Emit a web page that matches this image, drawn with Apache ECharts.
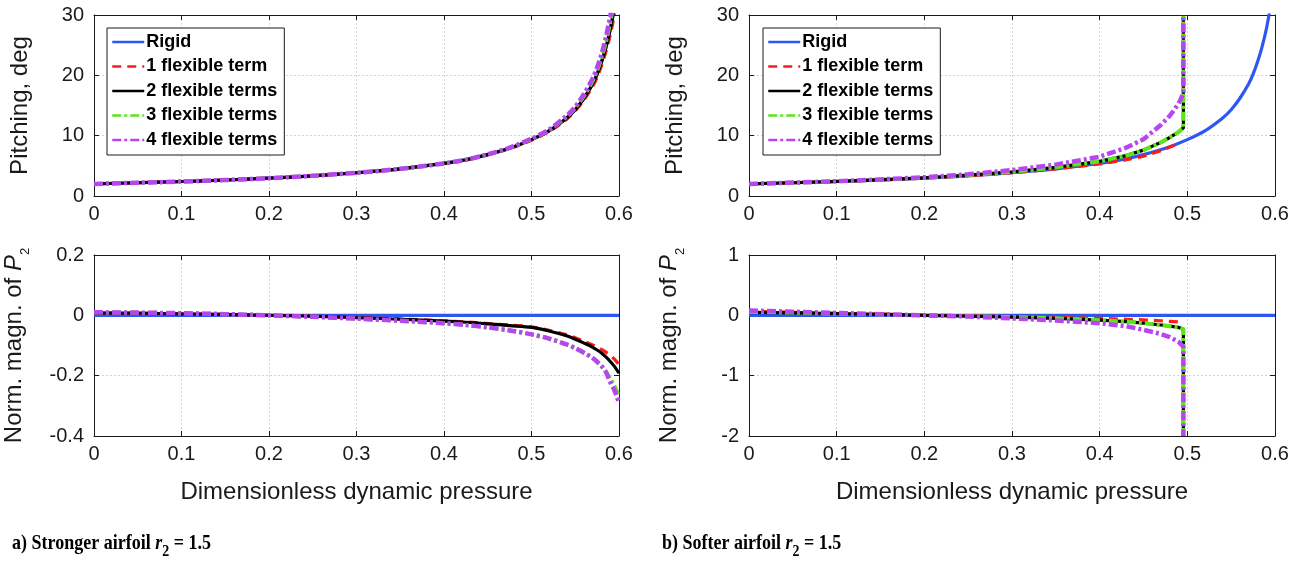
<!DOCTYPE html>
<html>
<head>
<meta charset="utf-8">
<script src="https://cdn.jsdelivr.net/npm/echarts@6/dist/echarts.min.js"></script>
<style>
  html, body { margin: 0; padding: 0; background: #ffffff; }
  #chart { width: 1303px; height: 561px; }
</style>
</head>
<body>
<div id="chart"></div>
<script>
// ---- dynamic-pressure samples ----
const qStrong = [0, 0.05, 0.1, 0.15, 0.2, 0.25, 0.3, 0.35, 0.4, 0.425, 0.45, 0.475, 0.5, 0.52, 0.54, 0.55, 0.56, 0.57, 0.575, 0.58, 0.585, 0.59, 0.595, 0.6];
const qSoft   = [0, 0.05, 0.1, 0.15, 0.2, 0.25, 0.3, 0.35, 0.4, 0.43, 0.45, 0.47, 0.48, 0.49, 0.4955, 0.4955];
const qRigidP2 = [0, 0.6];

// ---- a) stronger airfoil: pitching, deg ----
const rigidPitch   = [2.0, 2.2, 2.4, 2.65, 2.95, 3.35, 3.85, 4.5, 5.4, 6.0, 6.85, 7.9, 9.35, 10.8, 12.9, 14.3, 16.2, 18.6, 20.2, 22.2, 24.6, 27.6, 31.5, 36];
const strongPitch1 = [2.0, 2.2, 2.4, 2.65, 2.95, 3.35, 3.85, 4.5, 5.4, 6.0, 6.85, 7.85, 9.25, 10.7, 12.7, 14.1, 15.9, 18.2, 19.7, 21.6, 23.9, 26.7, 30.3, 35];
const strongPitch2 = [2.0, 2.2, 2.4, 2.65, 2.95, 3.35, 3.85, 4.5, 5.4, 6.0, 6.85, 7.9, 9.35, 10.8, 12.9, 14.3, 16.2, 18.6, 20.2, 22.2, 24.6, 27.6, 31.5, 36];
const strongPitch3 = [2.0, 2.2, 2.4, 2.65, 2.95, 3.35, 3.85, 4.5, 5.4, 6.0, 6.9, 7.95, 9.45, 10.9, 13.1, 14.6, 16.6, 19.1, 20.8, 22.9, 25.5, 28.8, 33, 38];
const strongPitch4 = [2.0, 2.2, 2.4, 2.65, 2.95, 3.35, 3.85, 4.5, 5.4, 6.0, 6.9, 8.0, 9.5, 11.0, 13.3, 14.8, 16.9, 19.5, 21.3, 23.5, 26.3, 29.8, 34, 39];

// ---- a) stronger airfoil: normalised magnitude of P2 ----
const rigidP2     = [0, 0];
const strongP2_1  = [0.008, 0.007, 0.005, 0.003, 0.0, -0.003, -0.007, -0.012, -0.018, -0.022, -0.027, -0.032, -0.038, -0.05, -0.064, -0.074, -0.086, -0.098, -0.105, -0.113, -0.122, -0.133, -0.146, -0.163];
const strongP2_2  = [0.008, 0.007, 0.005, 0.003, 0.0, -0.003, -0.008, -0.013, -0.019, -0.023, -0.028, -0.034, -0.040, -0.052, -0.068, -0.079, -0.092, -0.106, -0.115, -0.125, -0.138, -0.153, -0.17, -0.192];
const strongP2_3  = [0.01, 0.009, 0.007, 0.004, 0.0, -0.005, -0.011, -0.018, -0.026, -0.032, -0.04, -0.05, -0.063, -0.077, -0.096, -0.109, -0.124, -0.142, -0.154, -0.168, -0.186, -0.21, -0.235, -0.27];
const strongP2_4  = [0.01, 0.009, 0.007, 0.004, 0.0, -0.005, -0.011, -0.018, -0.026, -0.032, -0.04, -0.05, -0.063, -0.077, -0.096, -0.109, -0.124, -0.142, -0.154, -0.168, -0.188, -0.222, -0.25, -0.29];

// ---- b) softer airfoil: pitching, deg ----
const softPitch1 = [2.0, 2.2, 2.4, 2.65, 2.95, 3.35, 3.85, 4.5, 5.3, 6.0, 6.6, 7.5, 8.1, 8.7];
const softPitch2 = [2.0, 2.2, 2.42, 2.7, 3.0, 3.45, 4.0, 4.75, 5.75, 6.7, 7.6, 8.9, 9.7, 10.6, 11.3, 30];
const softPitch3 = [2.0, 2.2, 2.42, 2.7, 3.0, 3.45, 4.0, 4.75, 5.75, 6.7, 7.6, 8.9, 9.7, 10.6, 11.3, 30];
const softPitch4 = [2.0, 2.22, 2.45, 2.75, 3.1, 3.6, 4.3, 5.2, 6.5, 8.0, 9.4, 11.8, 13.3, 15.3, 17.0, 30];

// ---- b) softer airfoil: normalised magnitude of P2 ----
const softP2_1 = [0.07, 0.05, 0.035, 0.02, 0.005, -0.01, -0.02, -0.035, -0.05, -0.065, -0.075, -0.09, -0.1, -0.11];
const softP2_2 = [0.05, 0.04, 0.03, 0.015, 0.0, -0.015, -0.03, -0.05, -0.08, -0.105, -0.13, -0.16, -0.18, -0.2, -0.23, -2];
const softP2_3 = [0.06, 0.045, 0.03, 0.015, 0.0, -0.015, -0.03, -0.05, -0.08, -0.105, -0.13, -0.16, -0.18, -0.2, -0.23, -2];
const softP2_4 = [0.08, 0.06, 0.04, 0.02, 0.0, -0.02, -0.05, -0.085, -0.13, -0.18, -0.24, -0.31, -0.36, -0.44, -0.52, -2];

// ---- axis ticks ----
const xTicks = { min: 0, max: 0.6, interval: 0.1 };
const pitchTicks = { min: 0, max: 30, interval: 10 };
const strongP2Ticks = { min: -0.4, max: 0.2, interval: 0.2 };
const softP2Ticks = { min: -2, max: 1, interval: 1 };

const names = ['Rigid', '1 flexible term', '2 flexible terms', '3 flexible terms', '4 flexible terms'];

const zip = (xs, ys) => ys.map((y, i) => [xs[i], y]);

const FONT = '"Liberation Sans", Arial, Helvetica, sans-serif';
const SERIF = '"Liberation Serif", "Times New Roman", serif';
const INK = '#1a1a1a';

const styles = [
  { color: '#2d57f2', width: 3.2, type: 'solid' },
  { color: '#ff1a1a', width: 3.2, type: [9, 6] },
  { color: '#000000', width: 3.2, type: 'solid' },
  { color: '#5ce619', width: 4, type: [9, 3, 3, 3] },
  { color: '#b845f2', width: 4.5, type: [9, 3, 3, 3] }
];

const grids = [
  { left: 94, top: 15, width: 525, height: 181 },
  { left: 94, top: 255, width: 525, height: 181 },
  { left: 749, top: 15, width: 526, height: 181 },
  { left: 749, top: 255, width: 526, height: 181 }
];

const yTickSets = [pitchTicks, strongP2Ticks, pitchTicks, softP2Ticks];
const yNames = [
  'Pitching, deg',
  'Norm. magn. of {i|P}{s|2}',
  'Pitching, deg',
  'Norm. magn. of {i|P}{s|2}'
];

const xAxes = [];
const yAxes = [];
grids.forEach((g, gi) => {
  const bottomPanel = gi === 1 || gi === 3;
  // main x axis (labels, grid lines)
  xAxes.push({
    type: 'value', gridIndex: gi, position: 'bottom',
    min: xTicks.min, max: xTicks.max, interval: xTicks.interval,
    axisLine: { show: true, onZero: false, lineStyle: { color: INK, width: 1 } },
    axisTick: { show: true, inside: true, length: 5, lineStyle: { color: INK } },
    axisLabel: { show: true, color: INK, fontSize: 20, fontFamily: FONT, margin: 8,
                 formatter: v => String(Math.round(v * 10) / 10) },
    splitLine: { show: true, lineStyle: { color: '#d4d4d4', type: [2, 2], width: 1 } },
    name: bottomPanel ? 'Dimensionless dynamic pressure' : '',
    nameLocation: 'middle', nameGap: 44,
    nameTextStyle: { color: INK, fontSize: 24, fontFamily: FONT }
  });
  // box top edge
  xAxes.push({
    type: 'value', gridIndex: gi, position: 'top',
    min: xTicks.min, max: xTicks.max, interval: xTicks.interval,
    axisLine: { show: true, onZero: false, lineStyle: { color: INK, width: 1 } },
    axisTick: { show: true, inside: true, length: 5, lineStyle: { color: INK } },
    axisLabel: { show: false }, splitLine: { show: false }
  });
  const t = yTickSets[gi];
  yAxes.push({
    type: 'value', gridIndex: gi, position: 'left',
    min: t.min, max: t.max, interval: t.interval,
    axisLine: { show: true, onZero: false, lineStyle: { color: INK, width: 1 } },
    axisTick: { show: true, inside: true, length: 5, lineStyle: { color: INK } },
    axisLabel: { show: true, color: INK, fontSize: 20, fontFamily: FONT, margin: 10,
                 formatter: v => String(Math.round(v * 10) / 10) },
    splitLine: { show: true, lineStyle: { color: '#d4d4d4', type: [2, 2], width: 1 } },
    name: yNames[gi], nameLocation: 'middle', nameGap: 62, nameRotate: 90,
    nameTextStyle: {
      color: INK, fontSize: 24, fontFamily: FONT,
      rich: {
        i: { fontSize: 24, fontStyle: 'italic', fontFamily: FONT, color: INK },
        s: { fontSize: 13, fontFamily: FONT, color: INK, verticalAlign: 'bottom', lineHeight: 36 }
      }
    }
  });
  // box right edge
  yAxes.push({
    type: 'value', gridIndex: gi, position: 'right',
    min: t.min, max: t.max, interval: t.interval,
    axisLine: { show: true, onZero: false, lineStyle: { color: INK, width: 1 } },
    axisTick: { show: true, inside: true, length: 5, lineStyle: { color: INK } },
    axisLabel: { show: false }, splitLine: { show: false }
  });
});

function line(name, si, gi, data, smooth) {
  const s = styles[si];
  return {
    type: 'line', name: name,
    xAxisIndex: gi * 2, yAxisIndex: gi * 2,
    data: data, symbol: 'none', smooth: smooth || false, clip: true,
    lineStyle: { color: s.color, width: s.width, type: s.type, cap: 'butt', join: 'round' },
    itemStyle: { color: s.color },
    emphasis: { disabled: true }, animation: false, z: 2 + si
  };
}

const SM = 0.3;
const series = [
  // a) pitching
  line(names[0], 0, 0, zip(qStrong, rigidPitch), SM),
  line(names[1], 1, 0, zip(qStrong, strongPitch1), SM),
  line(names[2], 2, 0, zip(qStrong, strongPitch2), SM),
  line(names[3], 3, 0, zip(qStrong, strongPitch3), SM),
  line(names[4], 4, 0, zip(qStrong, strongPitch4), SM),
  // a) P2
  line(names[0], 0, 1, zip(qRigidP2, rigidP2)),
  line(names[1], 1, 1, zip(qStrong, strongP2_1), SM),
  line(names[2], 2, 1, zip(qStrong, strongP2_2), SM),
  line(names[3], 3, 1, zip(qStrong, strongP2_3), SM),
  line(names[4], 4, 1, zip(qStrong, strongP2_4), SM),
  // b) pitching
  line(names[0], 0, 2, zip(qStrong, rigidPitch), SM),
  line(names[1], 1, 2, zip(qSoft, softPitch1)),
  line(names[2], 2, 2, zip(qSoft, softPitch2)),
  line(names[3], 3, 2, zip(qSoft, softPitch3)),
  line(names[4], 4, 2, zip(qSoft, softPitch4)),
  // b) P2
  line(names[0], 0, 3, zip(qRigidP2, rigidP2)),
  line(names[1], 1, 3, zip(qSoft, softP2_1)),
  line(names[2], 2, 3, zip(qSoft, softP2_2)),
  line(names[3], 3, 3, zip(qSoft, softP2_3)),
  line(names[4], 4, 3, zip(qSoft, softP2_4))
];

function legendAt(left) {
  return {
    show: true, orient: 'vertical', left: left, top: 28,
    data: names, selectedMode: false,
    backgroundColor: '#ffffff', borderColor: INK, borderWidth: 1,
    padding: [5, 7, 6, 4],
    itemWidth: 32, itemHeight: 14, itemGap: 6.5,
    lineStyle: { width: 2.5 },
    itemStyle: { opacity: 0 },
    textStyle: { color: '#000', fontSize: 18, fontWeight: 'bold', fontFamily: FONT, lineHeight: 18, padding: [0, 0, 0, -3] }
  };
}

function caption(left, letter, label) {
  return {
    type: 'text', left: left, top: 532, scaleY: 1.22,
    style: {
      text: '{b|' + letter + ') ' + label + ' }{i|r}{s|2}{b| = 1.5}',
      rich: {
        b: { fontFamily: SERIF, fontWeight: 'bold', fontSize: 18, fill: '#000' },
        i: { fontFamily: SERIF, fontWeight: 'bold', fontStyle: 'italic', fontSize: 18, fill: '#000' },
        s: { fontFamily: SERIF, fontWeight: 'bold', fontSize: 14, fill: '#000', verticalAlign: 'bottom', lineHeight: 28 }
      }
    }
  };
}

const chart = echarts.init(document.getElementById('chart'), null, { renderer: 'canvas' });
chart.setOption({
  backgroundColor: '#ffffff',
  animation: false,
  grid: grids.map(g => Object.assign({ containLabel: false }, g)),
  xAxis: xAxes,
  yAxis: yAxes,
  legend: [legendAt(107), legendAt(763)],
  series: series,
  graphic: [
    caption(12, 'a', 'Stronger airfoil'),
    caption(662, 'b', 'Softer airfoil')
  ]
});
</script>
</body>
</html>
